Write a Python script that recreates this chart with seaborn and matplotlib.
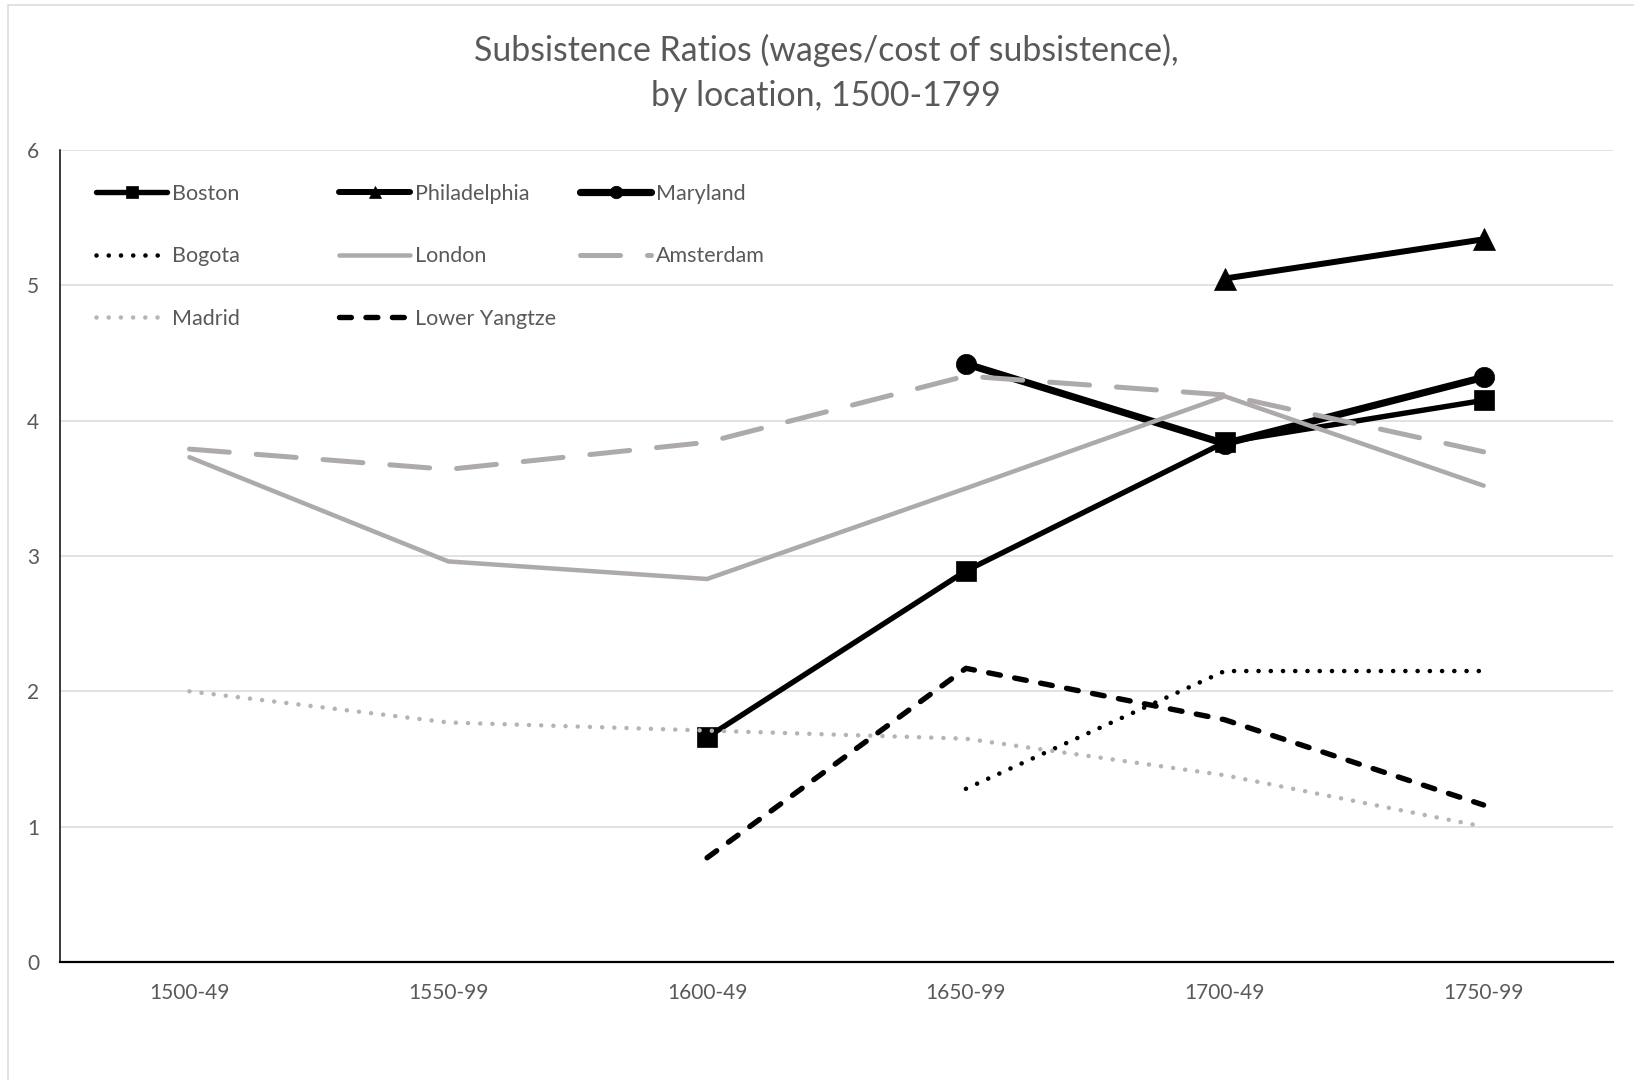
import numpy as np
import pandas as pd
import matplotlib
matplotlib.use("Agg")
import matplotlib.pyplot as plt
from matplotlib.lines import Line2D
from matplotlib.legend import Legend
from matplotlib.patches import Rectangle
import seaborn as sns

# ---- data -------------------------------------------------------------
periods = ["1500-49", "1550-99", "1600-49", "1650-99", "1700-49", "1750-99"]

boston       = [None, None, 1.66, 2.89, 3.84, 4.15]
philadelphia = [None, None, None, None, 5.05, 5.34]
maryland     = [None, None, None, 4.42, 3.83, 4.32]
bogota       = [None, None, None, 1.28, 2.15, 2.15]
london       = [3.73, 2.96, 2.83, 3.50, 4.18, 3.52]
amsterdam    = [3.79, 3.64, 3.84, 4.33, 4.19, 3.77]
madrid       = [2.00, 1.77, 1.71, 1.65, 1.38, 1.00]
lower_yangtze = [None, None, 0.77, 2.17, 1.79, 1.16]

title = "Subsistence Ratios (wages/cost of subsistence),\nby location, 1500-1799"

# ---- styling ----------------------------------------------------------
sns.set_theme(style="white")
plt.rcParams["font.family"] = ["Lato", "DejaVu Sans"]

TEXT = "#595959"
GRID = "#D9D9D9"
BLACK = "#000000"
GRAY = "#AEAAAA"
LIGHT = "#B4B4B4"
PX = 0.72  # points per pixel at dpi 100

series = [
    # name, values, color, lw(px), linestyle, marker, marker size(px)
    ("Boston", boston, BLACK, 5.4, "-", "s", 22),
    ("Philadelphia", philadelphia, BLACK, 6.0, "-", "^", 22),
    ("Maryland", maryland, BLACK, 7.2, "-", "o", 22),
    ("Bogota", bogota, BLACK, 4.6, (0, (0.01, 2.65)), None, 0),
    ("London", london, GRAY, 4.5, "-", None, 0),
    ("Amsterdam", amsterdam, GRAY, 5.0, (0, (8.0, 5.4)), None, 0),
    ("Madrid", madrid, LIGHT, 4.5, (0, (0.01, 2.7)), None, 0),
    ("Lower Yangtze", lower_yangtze, BLACK, 5.4, (0, (2.2, 2.7)), None, 0),
]

fig = plt.figure(figsize=(16.34, 10.8), dpi=100)
ax = fig.add_axes([60 / 1634, 118 / 1080, 1553 / 1634, 812 / 1080])

pos = np.arange(len(periods))
handles = []
for z, (name, vals, color, lw, ls, marker, ms) in enumerate(series):
    df = pd.DataFrame({"x": pos, "y": vals}).dropna()
    kws = dict(color=color, linewidth=lw * PX, linestyle=ls,
               solid_capstyle="round", dash_capstyle="round",
               solid_joinstyle="round", zorder=3 + z)
    if marker:
        kws.update(marker=marker, markersize=ms * PX * (0.92 if marker != "^" else 1.0),
                   markerfacecolor=color, markeredgecolor=color,
                   markeredgewidth=0.5)
    sns.lineplot(data=df, x="x", y="y", ax=ax, sort=True, **kws)
    hk = dict(kws)
    if marker:
        hk["markersize"] = 12.5 * PX
    hk.pop("zorder")
    handles.append(Line2D([], [], label=name, **hk))

# ---- axes -------------------------------------------------------------
ax.set_xlim(-0.5, len(periods) - 0.5)
ax.set_ylim(0, 6)
ax.set_xticks(pos)
ax.set_xticklabels(periods)
ax.set_yticks(range(0, 7))
ax.set_xlabel("")
ax.set_ylabel("")
ax.grid(axis="y", color=GRID, linewidth=1.5 * PX, zorder=0)
ax.set_axisbelow(True)
for side in ("top", "right"):
    ax.spines[side].set_visible(False)
ax.spines["left"].set_color(BLACK)
ax.spines["left"].set_linewidth(1.5 * PX)
ax.spines["bottom"].set_color(BLACK)
ax.spines["bottom"].set_linewidth(2.2 * PX)
ax.tick_params(axis="both", length=0, labelsize=15, labelcolor=TEXT)
ax.tick_params(axis="x", pad=15)
ax.tick_params(axis="y", pad=15)

# ---- legend: three columns laid out on a uniform grid -------------------
columns = [[0, 3, 6], [1, 4, 7], [2, 5]]
col_x = [96, 339, 580]
for cx, idx in zip(col_x, columns):
    leg = Legend(ax, [handles[i] for i in idx], [series[i][0] for i in idx],
                 loc="upper left",
                 bbox_to_anchor=(cx / 1634, (1080 - 184) / 1080),
                 bbox_transform=fig.transFigure, frameon=False,
                 fontsize=15.5, handlelength=3.3, handletextpad=0.25,
                 labelspacing=1.97, borderpad=0, borderaxespad=0,
                 labelcolor=TEXT)
    ax.add_artist(leg)

# ---- title ------------------------------------------------------------
fig.text(826 / 1634, 1 - 73 / 1080, title, ha="center", va="center",
         fontsize=24.4, color=TEXT, linespacing=1.5)

# chart area outline
fig.patches.append(Rectangle((8 / 1634, -0.05), 1.05, 1 - 5 / 1080 + 0.05,
                             transform=fig.transFigure, fill=False,
                             edgecolor=GRID, linewidth=1.5 * PX))

fig.savefig("out.png", dpi=100)
